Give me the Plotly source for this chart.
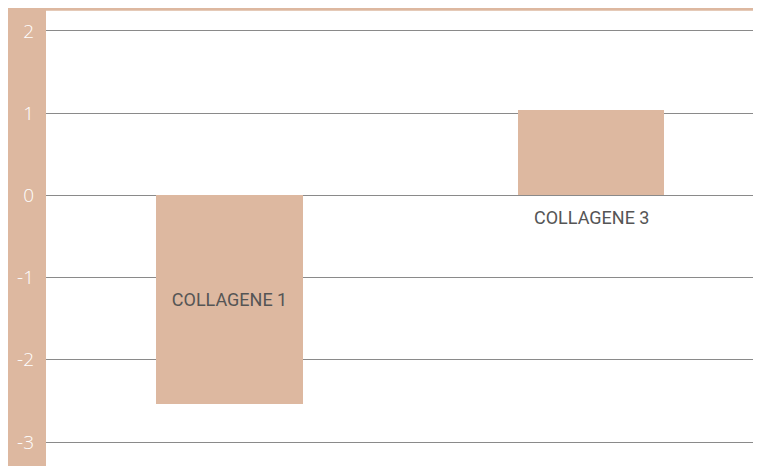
import plotly.graph_objects as go

categories = ["COLLAGENE 1", "COLLAGENE 3"]
values = [-2.54, 1.04]
tick_values = [-3, -2, -1, 0, 1, 2]
tick_labels = ["-3", "-2", "-1", "0", "1", "2"]

TAN = "#DDB8A0"
W, H = 761, 466
ML, MT = 38, 2
pw, ph = W - ML, H - MT

LABEL_FONT = dict(family="Roboto", size=18, color="#555555")

fig = go.Figure()
fig.add_trace(go.Bar(
    x=categories,
    y=values,
    width=0.4066,
    marker=dict(color=TAN, line=dict(width=0)),
    text=[categories[0], ""],
    textposition="inside",
    insidetextanchor="middle",
    textangle=0,
    textfont=LABEL_FONT,
    hoverinfo="skip",
))

fig.add_annotation(
    x=categories[1], y=0, text=categories[1], showarrow=False,
    yanchor="top", yshift=-10, font=LABEL_FONT,
)

# left tan band and top border
fig.add_shape(type="rect", xref="paper", yref="paper",
              x0=-ML / pw, x1=0, y0=-0.01, y1=1 + MT / ph,
              fillcolor=TAN, line=dict(width=0), layer="below")
fig.add_shape(type="rect", xref="paper", yref="paper",
              x0=-ML / pw, x1=1.01, y0=1 - 0.7 / ph, y1=1 + MT / ph,
              fillcolor=TAN, line=dict(width=0), layer="below")

fig.update_layout(
    width=W, height=H,
    margin=dict(l=ML, r=0, t=MT, b=0),
    paper_bgcolor="white", plot_bgcolor="white",
    showlegend=False,
    bargap=0,
)
fig.update_xaxes(
    type="category", range=[-0.5076, 1 + (W - 583) / 361.5],
    showticklabels=False, showgrid=False, zeroline=False, showline=False,
)
fig.update_yaxes(
    range=[-(H - 187.4) / 82.2, 2.255],
    tickvals=tick_values, ticktext=tick_labels,
    showgrid=True, gridcolor="#8a8a8a", gridwidth=1,
    zeroline=False, showline=False, ticks="",
    ticklabelstandoff=11,
    tickfont=dict(family="Open Sans", size=19, color="white", weight=300),
)

fig.write_html("out.html")
